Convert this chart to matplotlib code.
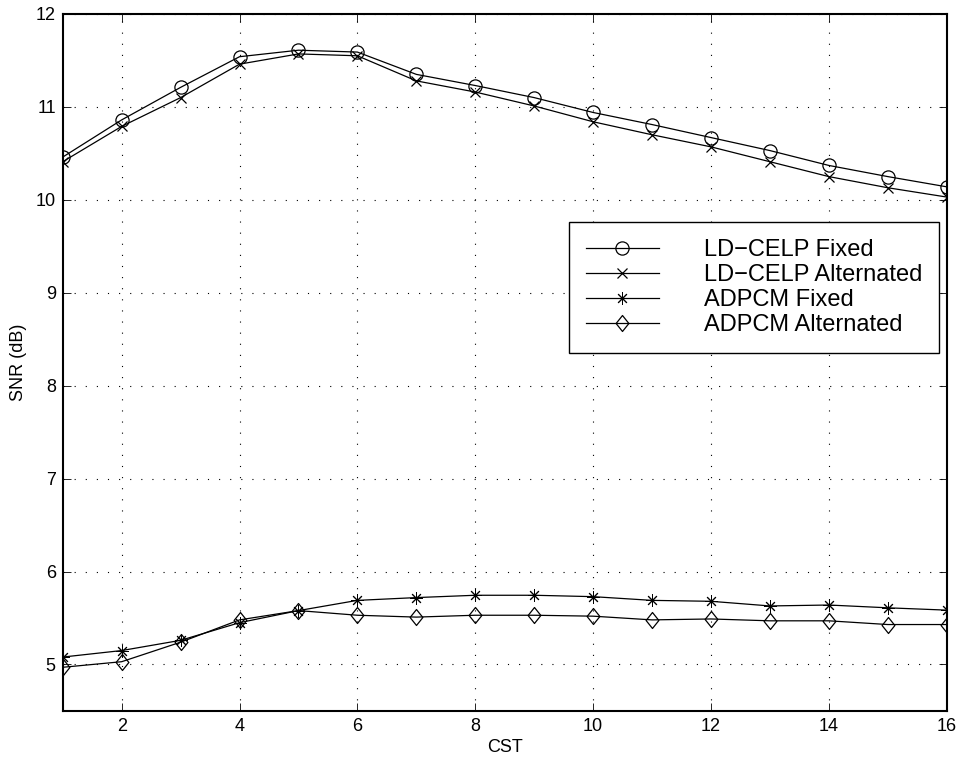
import matplotlib.pyplot as plt
from matplotlib.path import Path

plt.rcParams['font.family'] = ['Liberation Sans', 'DejaVu Sans']

cst = list(range(1, 17))
celp_fixed = [10.46, 10.86, 11.21, 11.54, 11.61, 11.59, 11.35, 11.23,
              11.10, 10.94, 10.81, 10.67, 10.53, 10.37, 10.25, 10.14]
celp_alt = [10.41, 10.79, 11.10, 11.46, 11.57, 11.55, 11.28, 11.16,
            11.01, 10.84, 10.70, 10.57, 10.41, 10.25, 10.13, 10.03]
adpcm_fixed = [5.08, 5.15, 5.26, 5.45, 5.58, 5.69, 5.72, 5.745,
               5.745, 5.73, 5.69, 5.68, 5.63, 5.64, 5.61, 5.585]
adpcm_alt = [4.97, 5.03, 5.24, 5.48, 5.58, 5.53, 5.51, 5.53,
             5.53, 5.52, 5.48, 5.49, 5.47, 5.47, 5.43, 5.43]

# matlab-style diamond, a bit taller than wide
diamond = Path([(0, 1), (0.8, 0), (0, -1), (-0.8, 0), (0, 1)],
               [Path.MOVETO, Path.LINETO, Path.LINETO, Path.LINETO, Path.CLOSEPOLY])
# matlab-style '*': plus and cross on top of each other
asterisk = (8, 2, 0)

fig = plt.figure(figsize=(9.59, 7.63), dpi=100)
ax = fig.add_axes([0.0654, 0.0682, 0.9218, 0.9135])

kw = dict(color='black', linewidth=0.9, markerfacecolor='none',
          markeredgecolor='black')
ax.plot(cst, celp_fixed, marker='o', markersize=9.5, markeredgewidth=0.9,
        label='LD\u2212CELP Fixed', **kw)
ax.plot(cst, celp_alt, marker='x', markersize=6.5, markeredgewidth=0.9,
        label='LD\u2212CELP Alternated', **kw)
ax.plot(cst, adpcm_fixed, marker=asterisk, markersize=9, markeredgewidth=0.7,
        label='ADPCM Fixed', **kw)
ax.plot(cst, adpcm_alt, marker=diamond, markersize=11.5, markeredgewidth=0.9,
        label='ADPCM Alternated', **kw)

ax.set_xlim(1, 16)
ax.set_ylim(4.5, 12)
ax.set_xticks(range(2, 17, 2))
ax.set_yticks(range(5, 13))
ax.tick_params(direction='in', top=True, right=True, labelsize=13, length=6,
               width=0.6, pad=5)
ax.grid(True, linestyle=(0, (1, 9)), color='black', linewidth=0.8)
for s in ax.spines.values():
    s.set_linewidth(1.5)

ax.set_xlabel('CST', fontsize=13, labelpad=3)
ax.set_ylabel('SNR (dB)', fontsize=13, labelpad=6)

leg = ax.legend(loc='upper right', bbox_to_anchor=(0.991, 0.701), fontsize=17,
                fancybox=False, framealpha=1, edgecolor='black',
                handlelength=3.1, handletextpad=1.9, labelspacing=0.13,
                borderpad=0.7, borderaxespad=0)
leg.get_frame().set_linewidth(1.0)

fig.savefig('out.png', dpi=100)
